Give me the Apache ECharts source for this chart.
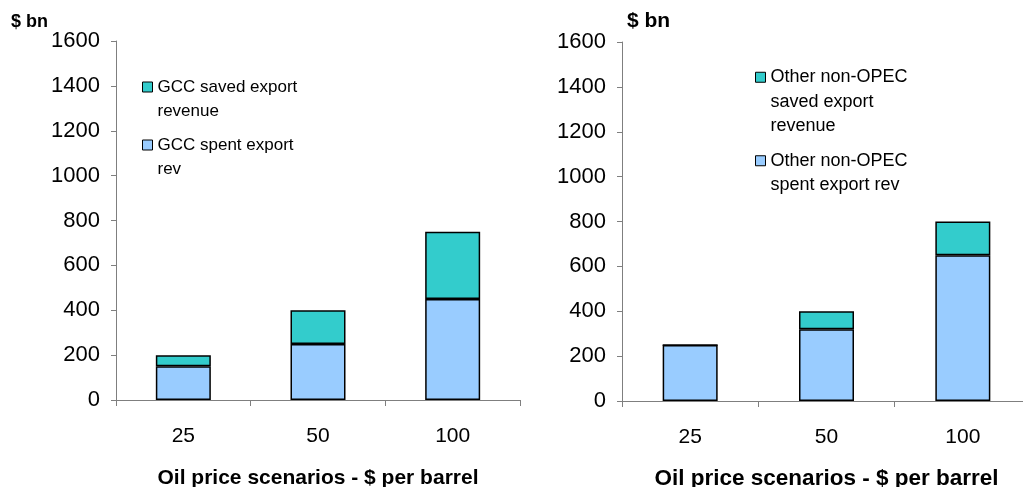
<!DOCTYPE html>
<html>
<head>
<meta charset="utf-8">
<script src="https://cdn.jsdelivr.net/npm/echarts@6/dist/echarts.min.js"></script>
<style>
html,body{margin:0;padding:0;background:#fff;}
#c{width:1023px;height:487px;}
</style>
</head>
<body>
<div id="c"></div>
<script>
var categories = ['25', '50', '100'];
var gccSpent = [150, 250, 450];
var gccSaved = [50, 150, 300];
var otherSpent = [250, 320, 650];
var otherSaved = [0, 80, 150];
var yTicks = {min: 0, max: 1600, interval: 200};

var FONT = 'Arial, "Liberation Sans", sans-serif';
var TEAL = '#33CCCC', BLUE = '#99CCFF';
var AXIS = '#7f7f7f';

function xAxis(gi, nameSize, nameGap) {
  return {
    type: 'category', gridIndex: gi, data: categories,
    axisLine: {lineStyle: {color: AXIS, width: 1}},
    axisTick: {show: true, length: 6, lineStyle: {color: AXIS}},
    axisLabel: {color: '#000', fontSize: 21, fontFamily: FONT, margin: 26},
    name: 'Oil price scenarios - $ per barrel', nameLocation: 'middle', nameGap: nameGap,
    nameTextStyle: {color: '#000', fontSize: nameSize, fontWeight: 'bold', fontFamily: FONT}
  };
}
function yAxis(gi) {
  return {
    type: 'value', gridIndex: gi, min: yTicks.min, max: yTicks.max, interval: yTicks.interval,
    splitLine: {show: false},
    axisLine: {show: true, lineStyle: {color: AXIS, width: 1}},
    axisTick: {show: true, length: 5, lineStyle: {color: AXIS}},
    axisLabel: {color: '#000', fontSize: 22, fontFamily: FONT, margin: 16,
      formatter: function (v) { return String(v); }}
  };
}
function bar(name, data, color, gi, stack) {
  return {
    name: name, type: 'bar', stack: stack, xAxisIndex: gi, yAxisIndex: gi,
    data: data, barWidth: 55,
    itemStyle: {color: color, borderColor: '#000', borderWidth: 1.5},
    emphasis: {disabled: true}
  };
}
function legend(name, left, top, size, lh, n) {
  var pre = new Array(n).join('\n');
  return {
    data: [name], left: left, top: top, orient: 'vertical', padding: 0,
    itemWidth: 10, itemHeight: 10, itemGap: 0, icon: 'rect',
    itemStyle: {borderColor: '#000', borderWidth: 1},
    textStyle: {color: '#000', fontSize: size, fontFamily: FONT, lineHeight: lh},
    formatter: function (s) { return pre + s; },
    selectedMode: false
  };
}

var nm = {
  gSaved: 'GCC saved export\nrevenue',
  gSpent: 'GCC spent export\nrev',
  oSaved: 'Other non-OPEC\nsaved export\nrevenue',
  oSpent: 'Other non-OPEC\nspent export rev'
};

var chart = echarts.init(document.getElementById('c'));
chart.setOption({
  animation: false,
  backgroundColor: '#fff',
  title: [
    {text: '$ bn', left: 11, top: 13, padding: 0, textStyle: {fontSize: 18, fontWeight: 'bold', color: '#000', fontFamily: FONT}},
    {text: '$ bn', left: 627, top: 11, padding: 0, textStyle: {fontSize: 21, fontWeight: 'bold', color: '#000', fontFamily: FONT}}
  ],
  grid: [
    {left: 116, right: 503, top: 41, bottom: 87, outerBoundsMode: 'none', containLabel: false},
    {left: 622, right: -8, top: 42, bottom: 86, outerBoundsMode: 'none', containLabel: false}
  ],
  xAxis: [xAxis(0, 21, 68), xAxis(1, 22.5, 66)],
  yAxis: [yAxis(0), yAxis(1)],
  legend: [
    legend(nm.gSaved, 142, 51, 17, 24, 2),
    legend(nm.gSpent, 142, 109, 17, 24, 2),
    legend(nm.oSaved, 755, 16, 18, 24.5, 3),
    legend(nm.oSpent, 755, 124, 18, 24.5, 2)
  ],
  series: [
    bar(nm.gSpent, gccSpent, BLUE, 0, 'g'),
    bar(nm.gSaved, gccSaved, TEAL, 0, 'g'),
    bar(nm.oSpent, otherSpent, BLUE, 1, 'o'),
    bar(nm.oSaved, otherSaved, TEAL, 1, 'o')
  ]
});
</script>
</body>
</html>
